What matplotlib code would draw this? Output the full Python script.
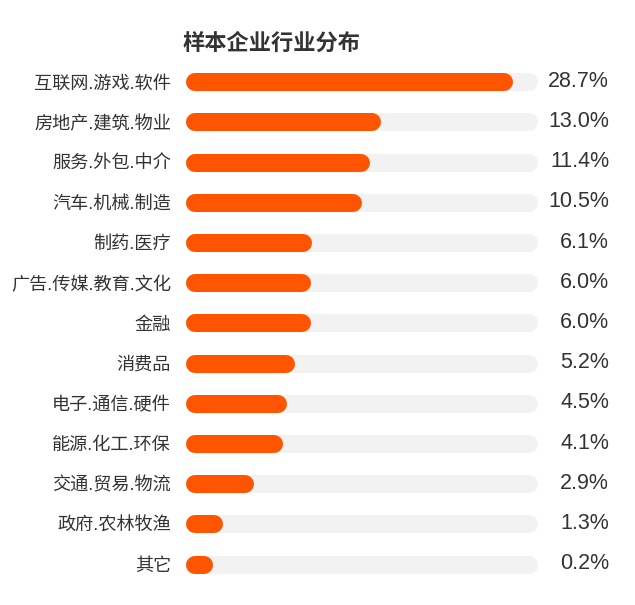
import matplotlib
matplotlib.use("Agg")
import matplotlib.pyplot as plt

plt.rcParams['font.family'] = ['Liberation Sans', 'Noto Sans CJK SC', 'DejaVu Sans']

categories = ['互联网.游戏.软件', '房地产.建筑.物业', '服务.外包.中介', '汽车.机械.制造',
              '制药.医疗', '广告.传媒.教育.文化', '金融', '消费品', '电子.通信.硬件',
              '能源.化工.环保', '交通.贸易.物流', '政府.农林牧渔', '其它']
shares = [28.7, 13.0, 11.4, 10.5, 6.1, 6.0, 6.0, 5.2, 4.5, 4.1, 2.9, 1.3, 0.2]
# filled part of each track as drawn (percent of track width)
bar_fill = [92.7, 55.3, 52.3, 50.0, 35.8, 35.5, 35.5, 31.0, 28.9, 27.7, 19.3, 10.5, 7.9]

W, H = 635, 605
fig = plt.figure(figsize=(W / 100, H / 100), dpi=100)

# axes spans the grey track area, in pixels
left, right = 185.5, 538.3
top, bottom = 62.0, 584.6
ax = fig.add_axes([left / W, 1 - bottom / H, (right - left) / W, (bottom - top) / H])
ax.set_xlim(0, 100)
ax.set_ylim(len(categories) - 0.5, -0.5)

bar_px = 18
lw = bar_px * 72 / 100
r = 100 * (bar_px / 2) / (right - left)   # round cap radius in data units

for i, (fill, val) in enumerate(zip(bar_fill, shares)):
    ax.plot([r, 100 - r], [i, i], color='#f2f2f2', lw=lw, solid_capstyle='round')
    ax.plot([r, fill - r], [i, i], color='#ff5500', lw=lw, solid_capstyle='round')
    ax.text(100 * (609 - left) / (right - left), i - 0.02, f'{val:.1f}%', ha='right', va='center',
            fontsize=15.5, color='#333333', clip_on=False)

ax.set_yticks(range(len(categories)))
ax.set_yticklabels(categories, fontsize=13.1, color='#333333')
ax.tick_params(axis='y', length=0, pad=10.5)
ax.set_xticks([])
for s in ax.spines.values():
    s.set_visible(False)

fig.text(271.5 / W, 1 - 43 / H, '样本企业行业分布', ha='center', va='center',
         fontsize=16, fontweight='bold', color='#333333',
         family=['Noto Sans CJK SC', 'DejaVu Sans'])

fig.savefig('out.png', dpi=100)
